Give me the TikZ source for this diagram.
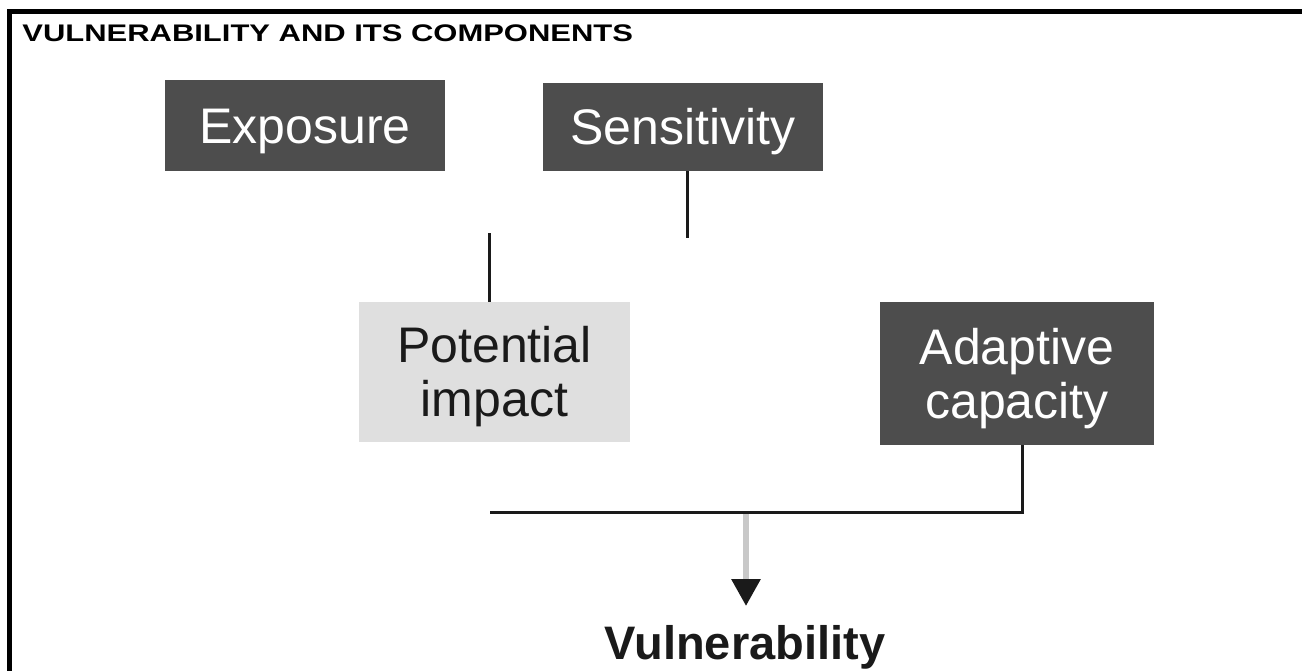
\documentclass[tikz,border=0pt]{standalone}
\usepackage{fontspec}
\setmainfont{Liberation Sans}
\usetikzlibrary{arrows.meta}
\definecolor{darkbox}{HTML}{4D4D4D}
\definecolor{lightbox}{HTML}{DFDFDF}
\definecolor{inkc}{HTML}{1A1A1A}
\definecolor{arrowgray}{HTML}{C8C8C8}
\tikzset{
  boxbase/.style={rectangle, inner sep=0pt, align=center,
    font=\fontsize{25pt}{27pt}\selectfont},
  darkone/.style={boxbase, fill=darkbox, text=white},
  lightone/.style={boxbase, fill=lightbox, text=inkc},
  oneline/.style={text height=17.9pt, text depth=0pt},
  twoline/.style={text height=44.9pt, text depth=0pt},
  conn/.style={draw=inkc, line width=1.5pt},
  grayarrow/.style={draw=arrowgray, line width=3pt,
    -{Triangle[width=14pt,length=13.5pt,color=inkc]}},
}
\begin{document}
\begin{tikzpicture}[x=0.5pt,y=-0.5pt]
\useasboundingbox (0,0) rectangle (1302,671);
\fill[white] (0,0) rectangle (1302,671);
% frame
\draw[line width=2.75pt, black] (1302,11.5) -- (9.7,11.5) -- (9.7,671);
% title
\node[anchor=base west, inner sep=0pt, font=\bfseries\fontsize{12pt}{14pt}\selectfont]
  (title) at (22,41) {\scalebox{1.29}[1]{VULNERABILITY AND ITS COMPONENTS}};
% boxes
\node[darkone, oneline, minimum width=140pt, minimum height=45.5pt] (exp) at (305,125.5) {Exposure};
\node[darkone, oneline, minimum width=140pt, minimum height=44pt] (sens) at (683,127) {Sensitivity};
\node[lightone, twoline, minimum width=135.5pt, minimum height=70pt] (pot) at (494.5,372) {Potential\\impact};
\node[darkone, twoline, minimum width=137pt, minimum height=71.5pt] (ada) at (1017,373.5) {Adaptive\\capacity};
\node[anchor=base, inner sep=0pt, text height=16.8pt, text depth=0pt, text=inkc,
  font=\bfseries\fontsize{23.5pt}{26pt}\selectfont] (vul) at (745,659) {Vulnerability};
% connectors
\coordinate (sensend) at (687,238);
\coordinate (expend) at (489,233);
\coordinate (adaj) at (1022,512);
\coordinate (joinL) at (490,512);
\coordinate (mid) at (746,512);
\draw[grayarrow, shorten >=9.5pt] (mid) -- (mid |- vul.north);
\draw[conn] (sens.south -| sensend) -- (sensend);
\draw[conn] (expend) -- (expend |- pot.north);
\draw[conn] (ada.south -| adaj) -- (adaj) -- (joinL);
\end{tikzpicture}
\end{document}
